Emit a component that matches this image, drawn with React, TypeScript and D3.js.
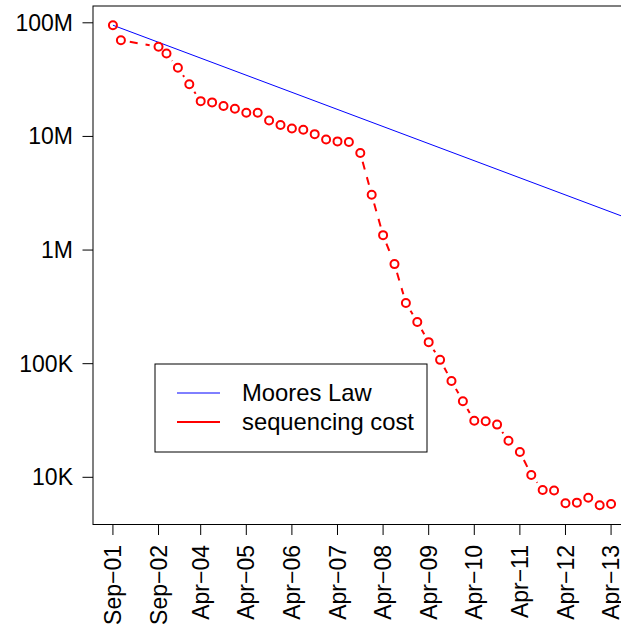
import React from "react";
import * as d3 from "d3";

// Sampling dates (as labelled in the source data)
const dates = [
  "Sep-01", "Mar-02", "Sep-02", "Mar-03", "Oct-03", "Jan-04", "Apr-04", "Jul-04", "Oct-04",
  "Jan-05", "Apr-05", "Jul-05", "Oct-05", "Jan-06", "Apr-06", "Jul-06", "Oct-06", "Jan-07",
  "Apr-07", "Jul-07", "Oct-07", "Jan-08", "Apr-08", "Jul-08", "Oct-08", "Jan-09", "Apr-09",
  "Jul-09", "Oct-09", "Jan-10", "Apr-10", "Jul-10", "Oct-10", "Jan-11", "Apr-11", "Jul-11",
  "Oct-11", "Jan-12", "Apr-12", "Jul-12", "Oct-12", "Jan-13", "Apr-13",
];

const periods = [
  0, 0.7, 4, 4.7, 5.7, 6.7, 7.7, 8.7, 9.7, 10.7, 11.7, 12.7, 13.7, 14.7, 15.7, 16.7, 17.7,
  18.7, 19.7, 20.7, 21.7, 22.7, 23.7, 24.7, 25.7, 26.7, 27.7, 28.7, 29.7, 30.7, 31.7, 32.7,
  33.7, 34.7, 35.7, 36.7, 37.7, 38.7, 39.7, 40.7, 41.7, 42.7, 43.7,
];

// Sequencing cost per genome (USD)
const seqCost = [
  95263072, 70175437, 61448422, 53751684, 40157554, 28780376, 20442576, 19934346, 18519312,
  17534970, 16159699, 16180224, 13801124, 12585659, 11732535, 11455315, 10474556, 9408739,
  9047003, 8927342, 7147571, 3063820, 1352982, 752080, 342502, 232735, 154714,
  108065, 70333, 46774, 31512, 31125, 29092, 20963, 16712, 10497,
  7743, 7666, 5901, 5985, 6618, 5671, 5826,
];

// Moore's law reference line (two end points)
const moorePeriods = [0, 48];
const mooreCost = [95263072, 1488486];

// Axis ticks
const xTickDates = [
  "Sep-01", "Sep-02", "Apr-04", "Apr-05", "Apr-06", "Apr-07", "Apr-08", "Apr-09",
  "Apr-10", "Apr-11", "Apr-12", "Apr-13",
];
const yTickValues = [1e4, 1e5, 1e6, 1e7, 1e8];
const yTickLabels = ["10K", "100K", "1M", "10M", "100M"];

const legendLabels = ["Moores Law", "sequencing cost"];

const W = 621;
const H = 628;
const box = { left: 93, right: 631, top: 6, bottom: 524.5 };
const FONT = "'Liberation Sans', Arial, Helvetica, sans-serif";
const FS = 23;
const LFS = 23.8;

export default function App() {
  const xExt = d3.extent(periods) as [number, number];
  const xPad = (xExt[1] - xExt[0]) * 0.04;
  const x = d3
    .scaleLinear()
    .domain([xExt[0] - xPad, xExt[1] + xPad])
    .range([box.left, box.right]);

  const lExt = d3.extent(seqCost.map((v) => Math.log10(v))) as [number, number];
  const lPad = (lExt[1] - lExt[0]) * 0.04;
  const y = d3
    .scaleLog()
    .domain([Math.pow(10, lExt[0] - lPad), Math.pow(10, lExt[1] + lPad)])
    .range([box.bottom, box.top]);

  const pts = periods.map((p, i) => [x(p), y(seqCost[i])] as [number, number]);
  const gap = 9;
  const segs: [number, number, number, number][] = [];
  for (let i = 0; i < pts.length - 1; i++) {
    const [x1, y1] = pts[i];
    const [x2, y2] = pts[i + 1];
    const dx = x2 - x1;
    const dy = y2 - y1;
    const d = Math.hypot(dx, dy);
    if (d <= 2 * gap) continue;
    const ux = dx / d;
    const uy = dy / d;
    segs.push([x1 + ux * gap, y1 + uy * gap, x2 - ux * gap, y2 - uy * gap]);
  }

  const mooreLine = d3
    .line<number>()
    .x((_, i) => x(moorePeriods[i]))
    .y((v) => y(v))(mooreCost);

  const legend = { x0: 155, y0: 364, x1: 427, y1: 452 };

  return (
    <svg
      width={W}
      height={H}
      style={{ position: "absolute", left: 0, top: 0, background: "#fff" }}
      fontFamily={FONT}
    >
      <defs>
        <clipPath id="plotclip">
          <rect x={box.left} y={box.top} width={box.right - box.left} height={box.bottom - box.top} />
        </clipPath>
      </defs>
      <rect x={0} y={0} width={W} height={H} fill="#fff" />

      {/* Moore's law */}
      <path d={mooreLine || ""} stroke="#0000ff" strokeWidth={1} fill="none" clipPath="url(#plotclip)" />

      {/* sequencing cost dashed segments */}
      <g stroke="#ff0000" strokeWidth={2} strokeDasharray="8 8" fill="none">
        {segs.map((s, i) => (
          <line key={i} x1={s[0]} y1={s[1]} x2={s[2]} y2={s[3]} />
        ))}
      </g>
      <g stroke="#ff0000" strokeWidth={2} fill="none">
        {pts.map((p, i) => (
          <circle key={i} cx={p[0]} cy={p[1]} r={4} />
        ))}
      </g>

      {/* plot box */}
      <rect
        x={box.left}
        y={box.top}
        width={box.right - box.left}
        height={box.bottom - box.top}
        fill="none"
        stroke="#000"
        strokeWidth={1}
      />

      {/* y axis */}
      <g>
        {yTickValues.map((v, i) => (
          <g key={v}>
            <line x1={box.left - 10.5} x2={box.left} y1={y(v)} y2={y(v)} stroke="#000" strokeWidth={1} />
            <text x={73} y={y(v)} dy="0.35em" textAnchor="end" fontSize={FS} fill="#000">
              {yTickLabels[i]}
            </text>
          </g>
        ))}
      </g>

      {/* x axis */}
      <g>
        {xTickDates.map((d) => {
          const px = x(periods[dates.indexOf(d)]);
          return (
            <g key={d}>
              <line x1={px} x2={px} y1={box.bottom} y2={box.bottom + 10.5} stroke="#000" strokeWidth={1} />
              <text
                transform={`translate(${px},545) rotate(-90)`}
                dy="0.35em"
                textAnchor="end"
                fontSize={FS}
                fill="#000"
              >
                {d.replace("-", "\u2212")}
              </text>
            </g>
          );
        })}
      </g>

      {/* legend */}
      <g>
        <rect
          x={legend.x0}
          y={legend.y0}
          width={legend.x1 - legend.x0}
          height={legend.y1 - legend.y0}
          fill="#fff"
          stroke="#000"
          strokeWidth={1}
        />
        <line x1={177} x2={220} y1={393} y2={393} stroke="#0000ff" strokeWidth={1} />
        <line x1={177} x2={220} y1={422} y2={422} stroke="#ff0000" strokeWidth={2} />
        <text x={242} y={393} dy="0.35em" fontSize={LFS} fill="#000">
          {legendLabels[0]}
        </text>
        <text x={242} y={422} dy="0.35em" fontSize={LFS} fill="#000">
          {legendLabels[1]}
        </text>
      </g>
    </svg>
  );
}
